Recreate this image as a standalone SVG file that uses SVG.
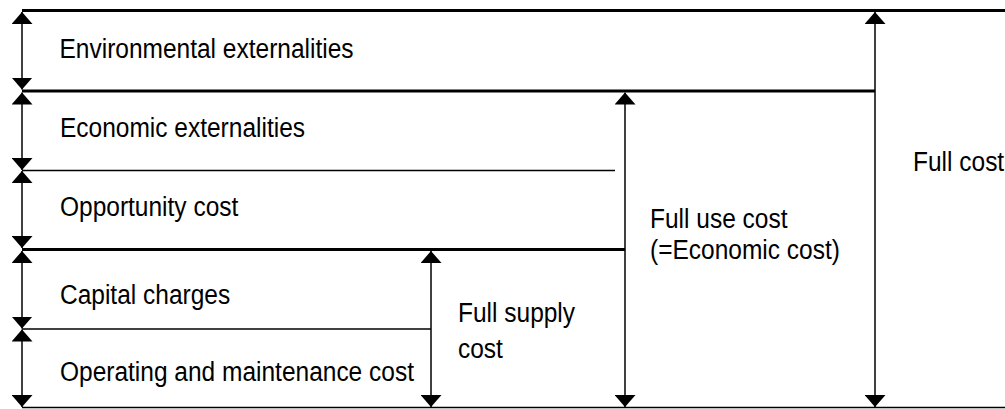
<svg xmlns="http://www.w3.org/2000/svg" width="1005" height="409" viewBox="0 0 1005 409">
<style>
.lbl{font-family:"Liberation Sans",Arial,sans-serif;font-size:28px;fill:#000}
.thick{stroke:#000;stroke-width:3;fill:none}
.thin{stroke:#000;stroke-width:1.4;fill:none}
.arr{stroke:#000;stroke-width:1.5;fill:none;marker-start:url(#ah);marker-end:url(#ah)}
</style>
<defs>
<marker id="ah" markerUnits="userSpaceOnUse" viewBox="0 0 12 21" refX="12" refY="10.5" markerWidth="12" markerHeight="21" orient="auto-start-reverse">
<path d="M0,0 L12,10.5 L0,21 z" fill="#000"/>
</marker>
</defs>
<rect width="1005" height="409" fill="#fff"/>
<g id="connectors">
<line class="thick" x1="22" y1="10.5" x2="1005" y2="10.5"/>
<line class="thick" x1="22" y1="91" x2="875" y2="91"/>
<line class="thin" x1="22" y1="170.5" x2="615" y2="170.5"/>
<line class="thick" x1="22" y1="249.5" x2="625" y2="249.5"/>
<line class="thin" x1="22" y1="329" x2="431" y2="329"/>
<line class="thin" x1="22" y1="407.5" x2="1005" y2="407.5"/>
<line class="arr" x1="22" y1="12" x2="22" y2="89.5"/>
<line class="arr" x1="22" y1="92.5" x2="22" y2="170"/>
<line class="arr" x1="22" y1="171" x2="22" y2="248"/>
<line class="arr" x1="22" y1="251" x2="22" y2="328.5"/>
<line class="arr" x1="22" y1="329.5" x2="22" y2="407"/>
<line class="arr" x1="875" y1="12" x2="875" y2="407"/>
<line class="arr" x1="625" y1="92.5" x2="625" y2="407"/>
<line class="arr" x1="431" y1="251" x2="431" y2="407"/>
</g>
<g id="env"><text class="lbl" transform="translate(59.5,57.5) scale(0.875,1)">Environmental externalities</text></g>
<g id="econ"><text class="lbl" transform="translate(60,137) scale(0.875,1)">Economic externalities</text></g>
<g id="opp"><text class="lbl" transform="translate(60,216) scale(0.875,1)">Opportunity cost</text></g>
<g id="cap"><text class="lbl" transform="translate(60,303.5) scale(0.875,1)">Capital charges</text></g>
<g id="om"><text class="lbl" transform="translate(60,380.5) scale(0.875,1)">Operating and maintenance cost</text></g>
<g id="supply"><text class="lbl" transform="translate(458,321.5) scale(0.875,1)">Full supply</text><text class="lbl" transform="translate(458,358) scale(0.875,1)">cost</text></g>
<g id="use"><text class="lbl" transform="translate(650,228) scale(0.875,1)">Full use cost</text><text class="lbl" transform="translate(650,258.5) scale(0.875,1)">(=Economic cost)</text></g>
<g id="full"><text class="lbl" transform="translate(913,171) scale(0.875,1)">Full cost</text></g>
</svg>
